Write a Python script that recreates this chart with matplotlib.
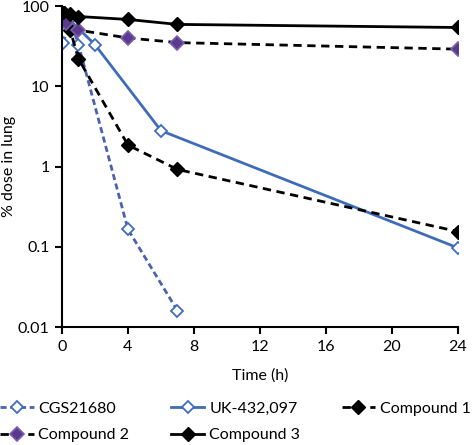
import matplotlib
matplotlib.use("Agg")
import matplotlib.pyplot as plt
from matplotlib.ticker import FixedLocator, FixedFormatter, NullLocator

plt.rcParams['font.family'] = ['Lato', 'DejaVu Sans']

# Data
cgs_t = [0.08, 0.5, 1, 4, 7]
cgs_v = [35, 68, 33, 0.165, 0.016]
uk_t = [0.08, 2, 6, 24]
uk_v = [80, 33, 2.8, 0.097]
c1_t = [0.08, 0.5, 1, 4, 7, 24]
c1_v = [85, 50, 22, 1.85, 0.92, 0.155]
c2_t = [0.08, 0.25, 1, 4, 7, 24]
c2_v = [72, 62, 50, 40, 35, 29]
c3_t = [0.08, 0.5, 1, 4, 7, 24]
c3_v = [85, 80, 74, 68, 59, 54]

x_ticks = [0, 4, 8, 12, 16, 20, 24]
y_ticks = [0.01, 0.1, 1, 10, 100]
y_labels = ['0.01', '0.1', '1', '10', '100']

fig = plt.figure(figsize=(4.75, 4.45), dpi=100)
ax = fig.add_axes([0.1305, 0.265, 0.8335, 0.7215])

l_cgs, = ax.plot(cgs_t, cgs_v, linestyle=(0, (2.2, 1.3)), color='#4a62b0', lw=2,
        marker='D', ms=6, mfc='white', mec='#3f6cc0', mew=1.3, label='CGS21680')
l_uk, = ax.plot(uk_t, uk_v, linestyle='-', color='#3f6cb8', lw=2,
        marker='D', ms=6, mfc='white', mec='#3f6cc0', mew=1.3, label='UK-432,097')
l_c1, = ax.plot(c1_t, c1_v, linestyle=(0, (3, 2)), color='black', lw=2,
        marker='D', ms=7, mfc='black', mec='black', label='Compound 1')
l_c2, = ax.plot(c2_t, c2_v, linestyle=(0, (3, 2)), color='black', lw=2,
        marker='D', ms=7, mfc='#5a3a8a', mec='#7b5cb0', mew=1.2, label='Compound 2')
l_c3, = ax.plot(c3_t, c3_v, linestyle='-', color='black', lw=2,
        marker='D', ms=7, mfc='black', mec='black', label='Compound 3')

ax.set_yscale('log')
ax.set_ylim(0.01, 100)
ax.set_xlim(0, 24)
ax.xaxis.set_major_locator(FixedLocator(x_ticks))
ax.yaxis.set_major_locator(FixedLocator(y_ticks))
ax.yaxis.set_major_formatter(FixedFormatter(y_labels))
ax.yaxis.set_minor_locator(NullLocator())

for s in ['top', 'right']:
    ax.spines[s].set_visible(False)
for s in ['left', 'bottom']:
    ax.spines[s].set_linewidth(1.5)
ax.tick_params(axis='both', which='major', direction='out', length=5, width=1.5,
               labelsize=11.5, pad=4)

ax.set_xlabel('Time (h)', fontsize=11.5, labelpad=11)
ax.set_ylabel('% dose in lung', fontsize=11.5)
ax.yaxis.set_label_coords(-0.115, 0.5)

handles = [l_cgs, l_c2, l_uk, l_c3, l_c1]
labels = [h.get_label() for h in handles]
fig.legend(handles, labels, loc='upper left', bbox_to_anchor=(0.0, 0.097),
           ncol=3, frameon=False, fontsize=11.5, handlelength=2.1,
           handletextpad=0.3, columnspacing=2.6, labelspacing=0.75,
           borderpad=0, borderaxespad=0)

fig.savefig('out.png', dpi=100)
